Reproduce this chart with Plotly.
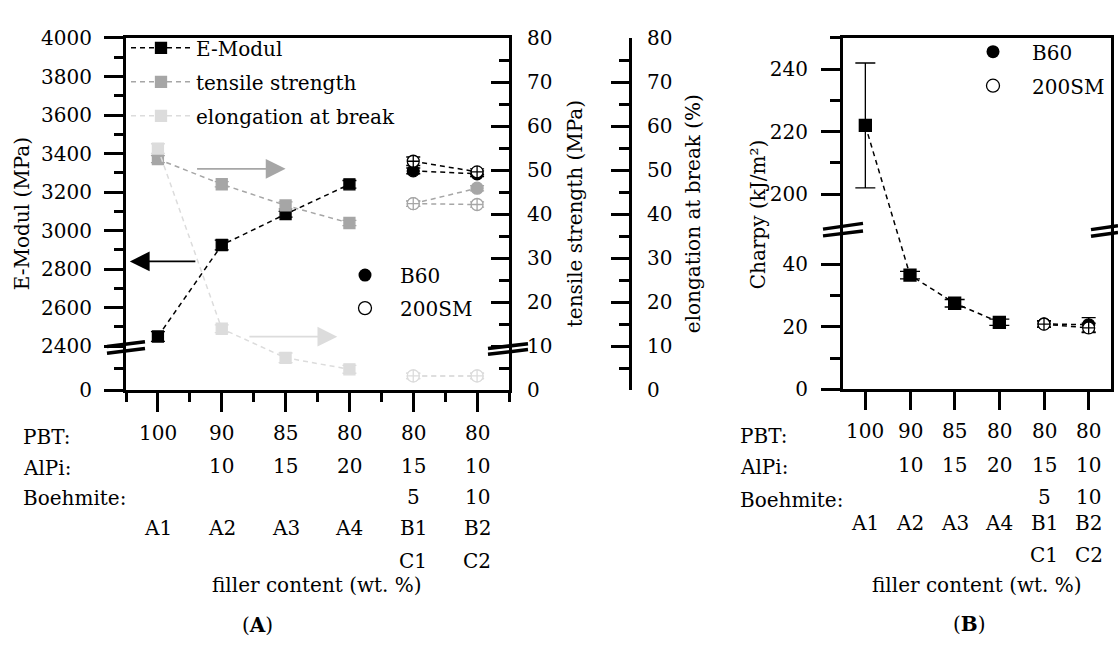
import plotly.graph_objects as go

W, H = 1118, 647
FONT = "DejaVu Serif"
FS = 20

# ---------------- data ----------------
codes = ["A1", "A2", "A3", "A4", "B1", "B2"]
codes2 = ["", "", "", "", "C1", "C2"]
pbt = ["100", "90", "85", "80", "80", "80"]
alpi = ["", "10", "15", "20", "15", "10"]
boehmite = ["", "", "", "", "5", "10"]
row_names = ["PBT:", "AlPi:", "Boehmite:"]
x_A = [0, 1, 2, 3]
x_B = [4, 5]

emod_A = [2450, 2925, 3085, 3240]
emod_A_err = [25, 25, 15, 20]
emod_B60 = [3310, 3295]
emod_B60_err = [15, 15]
emod_SM = [3360, 3305]
emod_SM_err = [22, 15]

tens_A = [52.5, 46.8, 42.0, 38.0]
tens_A_err = [0.8, 0.6, 0.8, 0.6]
tens_B60 = [42.4, 45.9]
tens_B60_err = [0.6, 0.6]
tens_SM = [42.4, 42.2]
tens_SM_err = [0.6, 0.6]

elong_A = [54.9, 14.0, 7.4, 4.8]
elong_A_err = [1.1, 0.9, 1.1, 0.9]
elong_B60 = [3.3, 3.3]
elong_B60_err = [0.6, 0.6]
elong_SM = [3.3, 3.3]
elong_SM_err = [0.6, 0.6]

charpy_A = [222, 36.6, 27.6, 21.5]
charpy_A_err = [20, 1.2, 1.2, 1.0]
charpy_B60 = [21.0, 20.7]
charpy_B60_err = [1.0, 2.3]
charpy_SM = [20.9, 19.7]
charpy_SM_err = [1.0, 1.5]

emod_ticks = [2400, 2600, 2800, 3000, 3200, 3400, 3600, 3800, 4000]
pct_ticks = [0, 10, 20, 30, 40, 50, 60, 70, 80]
charpy_ticks = [0, 20, 40, 200, 220, 240]

# broken Charpy axis: values above the break are shifted down
BREAK_LO, BREAK_HI = 50.5, 188.0


def brk(v):
    return v if v <= BREAK_LO else v - (BREAK_HI - BREAK_LO)


EMOD_BOTTOM = 2170  # value at the bottom of the (broken) E-Modul axis, labelled "0"

BLACK = "#000000"
GRAY = "#a6a6a6"
LGRAY = "#dcdcdc"


def fx(px):
    return px / W


def fy(py):
    return 1 - py / H


fig = go.Figure()
DASH = "5px,4px"


def series(x, y, err, color, symbol, axis_x, axis_y, name=None, legend=None, cap=7, size=11,
           fill=None):
    fig.add_trace(go.Scatter(
        x=x, y=y, xaxis=axis_x, yaxis=axis_y, mode="lines+markers",
        line=dict(color=color, width=1.5, dash=DASH),
        marker=dict(symbol=symbol, size=size, color=fill or color, line=dict(color=color, width=1.3)),
        error_y=dict(type="data", array=err, color=color, thickness=1.3, width=cap),
        name=name or "", showlegend=legend is not None, legend=legend or "legend",
        legendgroup=name or None,
    ))


# Panel A -- E-Modul (y), tensile (y2), elongation (y3)
series(x_A, emod_A, emod_A_err, BLACK, "square", "x", "y", "E-Modul", "legend")
series(x_B, emod_B60, emod_B60_err, BLACK, "circle", "x", "y", size=12)
series(x_B, emod_SM, emod_SM_err, BLACK, "circle-cross", "x", "y", size=12, fill="white")
series(x_A, tens_A, tens_A_err, GRAY, "square", "x", "y2", "tensile strength", "legend")
series(x_B, tens_B60, tens_B60_err, GRAY, "circle", "x", "y2", size=12)
series(x_B, tens_SM, tens_SM_err, GRAY, "circle-cross", "x", "y2", size=12, fill="white")
series(x_A, elong_A, elong_A_err, LGRAY, "square", "x", "y3", "elongation at break", "legend")
series(x_B, elong_B60, elong_B60_err, LGRAY, "circle", "x", "y3", size=12)
series(x_B, elong_SM, elong_SM_err, LGRAY, "circle-cross", "x", "y3", size=12, fill="white")

# Panel B -- Charpy
series(x_A, [brk(v) for v in charpy_A], charpy_A_err, BLACK, "square", "x2", "y4", cap=10, size=12)
series(x_B, [brk(v) for v in charpy_B60], charpy_B60_err, BLACK, "circle", "x2", "y4", size=12)
series(x_B, [brk(v) for v in charpy_SM], charpy_SM_err, BLACK, "circle-cross", "x2", "y4", size=12,
       fill="white")

# legend entries for fillers
for lg, ax, ay in (("legend2", "x", "y"), ("legend3", "x2", "y4")):
    fig.add_trace(go.Scatter(x=[None], y=[None], xaxis=ax, yaxis=ay, mode="markers", name="B60",
                             marker=dict(symbol="circle", size=13, color=BLACK), legend=lg,
                             legendgroup=lg + "b60"))
    fig.add_trace(go.Scatter(x=[None], y=[None], xaxis=ax, yaxis=ay, mode="markers", name="200SM",
                             marker=dict(symbol="circle-open", size=13, color=BLACK,
                                         line=dict(width=1.3)), legend=lg,
                             legendgroup=lg + "sm"))

axis_common = dict(showgrid=False, zeroline=False, showline=True, linewidth=3, linecolor=BLACK,
                   tickwidth=3, tickcolor=BLACK, tickfont=dict(family=FONT, size=FS, color=BLACK))

x_minor = [i - 0.5 for i in range(len(codes) + 1)]
pct_minor = [v + 5 for v in pct_ticks[:-1]]
leg_font = dict(family=FONT, size=FS, color=BLACK)

fig.update_layout(
    width=W, height=H, autosize=False, margin=dict(l=0, r=0, t=0, b=0),
    paper_bgcolor="white", plot_bgcolor="rgba(0,0,0,0)",
    font=dict(family=FONT, size=FS, color=BLACK),
    xaxis=dict(**axis_common, domain=[fx(126), fx(509)], range=[-0.5, 5.5], anchor="y",
               tickmode="array", tickvals=list(range(len(codes))), showticklabels=False,
               ticks="outside", ticklen=19, mirror=True,
               minor=dict(tickmode="array", tickvals=x_minor, ticks="outside", ticklen=9,
                          tickwidth=3, tickcolor=BLACK)),
    yaxis=dict(**axis_common, domain=[fy(393), fy(27)], range=[EMOD_BOTTOM, 4000], anchor="x",
               tickmode="array", tickvals=[EMOD_BOTTOM] + emod_ticks,
               ticktext=["0"] + [str(v) for v in emod_ticks],
               ticks="outside", ticklen=19, ticklabelstandoff=8,
               minor=dict(tickmode="array", tickvals=[(EMOD_BOTTOM + 2400) / 2] + [v + 100 for v in emod_ticks[:-1]],
                          ticks="outside", ticklen=9, tickwidth=3, tickcolor=BLACK)),
    yaxis2=dict(**axis_common, overlaying="y", side="right", anchor="x", range=[0, 80],
                tickmode="array", tickvals=pct_ticks, ticks="inside", ticklen=18, ticklabelstandoff=11,
                minor=dict(tickmode="array", tickvals=pct_minor, ticks="inside", ticklen=10,
                           tickwidth=3, tickcolor=BLACK)),
    yaxis3=dict(**axis_common, overlaying="y", side="right", anchor="free", position=fx(630),
                range=[0, 80], tickmode="array", tickvals=pct_ticks, ticks="inside", ticklen=18,
                ticklabelstandoff=11,
                minor=dict(tickmode="array", tickvals=pct_minor, ticks="inside", ticklen=10,
                           tickwidth=3, tickcolor=BLACK)),
    xaxis2=dict(**axis_common, domain=[fx(843), fx(1111)], range=[-0.5, 5.5], anchor="y4",
                tickmode="array", tickvals=list(range(len(codes))), showticklabels=False,
                ticks="outside", ticklen=18, mirror=True),
    yaxis4=dict(**axis_common, domain=[fy(392), fy(27)], range=[0, brk(250)], anchor="x2",
                tickmode="array", tickvals=[brk(v) for v in charpy_ticks],
                ticktext=[str(v) for v in charpy_ticks], ticks="outside", ticklen=19,
                ticklabelstandoff=9, mirror=True,
                minor=dict(tickmode="array", tickvals=[brk(v) for v in (10, 30, 210, 230, 250)],
                           ticks="outside", ticklen=10, tickwidth=3, tickcolor=BLACK)),
    legend=dict(x=fx(126), y=fy(17), xanchor="left", yanchor="top", bgcolor="rgba(0,0,0,0)",
                itemwidth=60, traceorder="grouped", tracegroupgap=5, font=leg_font),
    legend2=dict(x=fx(330), y=fy(253), xanchor="left", yanchor="top", bgcolor="rgba(0,0,0,0)",
                 itemwidth=60, traceorder="grouped", tracegroupgap=4, font=leg_font),
    legend3=dict(x=fx(954), y=fy(21), xanchor="left", yanchor="top", bgcolor="rgba(0,0,0,0)",
                 itemwidth=68, traceorder="grouped", tracegroupgap=5, font=leg_font),
)

ann = []


def text(x, y, s, xref="paper", xanchor="center", angle=0):
    ann.append(dict(x=x, y=y, xref=xref, yref="paper", text=s, showarrow=False, xanchor=xanchor,
                    yanchor="middle", textangle=angle, font=dict(family=FONT, size=FS, color=BLACK)))


# category rows
for xr, rows_y, lab_x, lab_y in (("x", (437, 471, 504, 536, 570), 21, (441, 474, 505)),
                                  ("x2", (435, 470, 504, 531, 564), 738, (440, 473, 507))):
    for i in range(len(codes)):
        for row, yy in zip((pbt, alpi, boehmite, codes, codes2), rows_y):
            if row[i]:
                text(i, fy(yy), row[i], xref=xr)
    for name, yy in zip(row_names, lab_y):
        text(fx(lab_x), fy(yy), name, xanchor="left")

text(fx(317), fy(595), "filler content (wt. %)")
text(fx(977), fy(595), "filler content (wt. %)")
text(fx(257), fy(637), "(<b>A</b>)")
text(fx(969), fy(636), "(<b>B</b>)")
text(fx(22), fy(210), "E-Modul (MPa)", angle=-90)
text(fx(575), fy(210), "tensile strength (MPa)", angle=-90)
text(fx(693), fy(210), "elongation at break (%)", angle=-90)
text(fx(758), fy(210), "Charpy (kJ/m²)", angle=-90)

# arrows indicating the axis of each series
for color, yref, xh, xt, yv in ((BLACK, "y", -0.44, 0.61, 2840), (GRAY, "y2", 2.0, 0.59, 50.3),
                                (LGRAY, "y3", 2.81, 1.41, 12.2)):
    ann.append(dict(x=xh, y=yv, xref="x", yref=yref, ax=xt, ay=yv, axref="x", ayref=yref,
                    showarrow=True, arrowhead=2, arrowsize=2.2, arrowwidth=1.8, arrowcolor=color,
                    text=""))

fig.update_layout(annotations=ann)

# axis break marks
shapes = []
for (x0, x1, ya0, ya1, yb0, yb1) in ((107, 145, 347.5, 342.5, 354.5, 349.5),
                                      (488, 528, 349.5, 344.5, 355.5, 350.5),
                                      (823, 863, 225.5, 219.5, 232.5, 227.5),
                                      (1091, 1118, 226, 222, 233, 229)):
    shapes.append(dict(type="line", xref="paper", yref="paper", x0=fx(x0), x1=fx(x1), y0=fy(ya0),
                       y1=fy(ya1), line=dict(color=BLACK, width=3.5)))
    shapes.append(dict(type="line", xref="paper", yref="paper", x0=fx(x0), x1=fx(x1), y0=fy(yb0),
                       y1=fy(yb1), line=dict(color=BLACK, width=3.5)))
fig.update_layout(shapes=shapes)

fig.write_html("out.html")
